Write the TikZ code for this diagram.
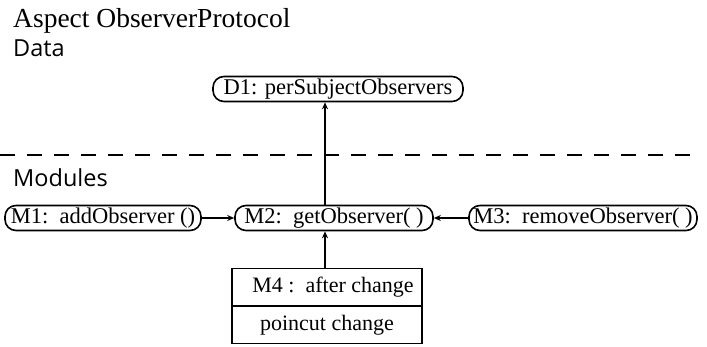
\documentclass[tikz,border=0pt]{standalone}
\usepackage{fontspec}
\setmainfont{Liberation Serif}
\newfontfamily\headsans{Open Sans}
\usetikzlibrary{arrows.meta}
\begin{document}
\begin{tikzpicture}[x=1pt,y=-1pt,
  module/.style={draw, line width=1.6pt, rounded corners=11pt,
    minimum height=25pt, inner sep=0pt,
    font=\fontsize{22.5}{22.5}\selectfont},
  advice/.style={draw, line width=1.2pt, minimum width=190pt,
    minimum height=37pt, inner sep=0pt,
    font=\fontsize{22}{22}\selectfont},
  heading/.style={anchor=base west, inner sep=0pt},
  link/.style={line width=1.2pt, -{Stealth[length=7pt,width=6pt]}},
  divider/.style={line width=1.5pt, dash pattern=on 15pt off 12pt}]
\useasboundingbox (0,0) rectangle (707,347);

% headings
\node[heading, font=\fontsize{27.5}{27.5}\selectfont] (title) at (13,28) {Aspect ObserverProtocol};
\node[heading, font=\headsans\fontsize{23.5}{23.5}\selectfont] (data) at (13,57) {Data};
\node[heading, font=\headsans\fontsize{23.5}{23.5}\selectfont] (mods) at (13,187) {Modules};

% data part
\node[module, minimum width=250pt] (d1) at (338,89) {D1: perSubjectObservers};

% separator between data and modules
\coordinate (sepL) at (0,155);
\coordinate (sepR) at (694,155);
\draw[divider] (sepL) -- (sepR);

% modules
\node[module, minimum width=196pt] (m1) at (103,218) {M1:\ \ addObserver ()};
\node[module, minimum width=198pt] (m2) at (334,218) {M2:\ \ getObserver( )};
\node[module, minimum width=228pt] (m3) at (583,218) {M3:\ \ removeObserver( )};

% advice box
\node[advice, anchor=north] (m4a) at (327,268) {\hspace*{12pt}M4 :\ \ after change};
\node[advice, anchor=north] (m4b) at (m4a.south) {poincut change};

% connectors
\draw[link] (m1) -- (m2);
\draw[link] (m3) -- (m2);
\draw[link] ([xshift=-9pt]m2.north) -- ([xshift=-13pt]d1.south);
\draw[link] ([xshift=-2pt]m4a.north) -- ([xshift=-9pt]m2.south);
\end{tikzpicture}
\end{document}
